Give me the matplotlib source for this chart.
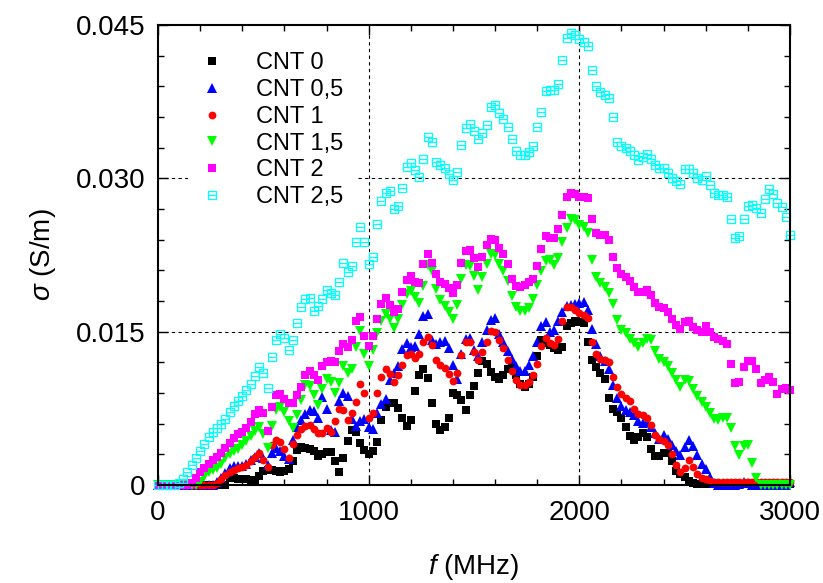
import numpy as np
import matplotlib
matplotlib.use("Agg")
import matplotlib.pyplot as plt
from matplotlib.path import Path
from matplotlib.ticker import MultipleLocator, FixedLocator

plt.rcParams['font.family'] = ['Liberation Sans', 'DejaVu Sans']
plt.rcParams['mathtext.fontset'] = 'custom'
plt.rcParams['mathtext.rm'] = 'Liberation Sans'
plt.rcParams['mathtext.it'] = 'Liberation Sans:italic'

# frequency grid, MHz
freq = np.arange(0, 3001, 20)

# conductivity in mS/m (one value per 20 MHz)
cnt_0 = [0] * 17 + [
    0.7, 0.7, 0.6, 0.6, 0.6, 0.5, 0.5, 0.9, 1.4, 1.5,
    1.5, 1.4, 1.3, 1.4, 1.6, 2.3, 3.4, 3.7, 3.6, 3.5,
    3.3, 2.8, 3.0, 3.2, 3.2, 2.3, 1.3, 2.6, 4.3, 5.4,
    5.2, 4.1, 3.4, 3.0, 3.3, 4.2, 6.4, 7.6, 8.0, 8.0,
    7.5, 6.6, 5.8, 6.4, 9.2, 10.8, 11.3, 10.5, 8.0, 6.0,
    5.4, 5.7, 6.6, 9.0, 8.8, 8.3, 7.3, 8.8, 9.7, 11.0,
    12.1, 11.8, 11.1, 10.6, 10.4, 10.8, 11.3, 11.4, 10.8, 9.9,
    9.6, 9.9, 10.6, 12.6, 14.2, 13.9, 13.7, 13.4, 13.2, 13.5,
    15.6, 15.8, 16.0, 15.9, 15.8, 14.0, 12.2, 11.5, 11.0, 10.4,
    8.5, 7.4, 7.1, 6.6, 5.7, 4.8, 4.4, 4.7, 5.1, 4.7,
    3.5, 2.8, 2.8, 3.1, 3.1, 2.3, 1.4, 1.1, 0.8, 0.4,
    0.2] + [0.1] * 23

cnt_05 = [0] * 14 + [
    0.3, 0.7, 1.2, 1.7, 1.9, 1.9, 1.9, 2.1, 2.4, 2.7,
    3.1, 2.6, 2.0, 3.1, 3.6, 3.3, 2.8, 2.5, 4.4, 5.7,
    6.4, 6.9, 7.3, 7.2, 6.6, 8.6, 7.4, 5.4, 5.2, 8.2,
    9.0, 8.7, 6.5, 5.8, 6.3, 6.5, 5.7, 5.5, 7.0, 7.9,
    8.4, 10.3, 11.0, 11.6, 13.3, 13.9, 13.5, 13.6, 14.8, 16.5,
    16.7, 14.2, 13.8, 14.0, 14.1, 13.4, 11.7, 10.4, 12.8, 14.3,
    14.4, 13.2, 12.6, 14.0, 15.2, 16.1, 16.3, 14.8, 14.0, 13.1,
    12.3, 11.6, 11.2, 11.2, 11.7, 12.6, 14.0, 15.6, 15.9, 15.0,
    15.2, 16.0, 16.9, 17.5, 17.6, 17.7, 17.8, 17.9, 17.1, 15.3,
    13.8, 12.6, 12.1, 11.3, 9.8, 8.5, 7.7, 7.3, 7.1, 6.8,
    6.3, 6.1, 6.2, 5.7, 5.1, 4.5, 4.9, 4.5, 3.9, 3.3,
    2.9, 3.7, 4.4, 3.8, 2.9, 2.1, 1.6, 0.8, 0.2, 0.0,
    0.0, 0.0, 0.0, 0.0, 0.1, 0.3, 0.2, 0.0, 0.0, 0.0,
    0.0, 0.0, 0.0, 0.0, 0.0, 0.0, 0.3]

cnt_1 = [0] * 14 + [
    0.2, 0.6, 1.0, 1.3, 1.5, 1.7, 1.8, 2.0, 2.3, 2.7,
    3.1, 2.4, 1.8, 3.9, 4.4, 4.2, 3.5, 2.6, 4.0, 4.9,
    5.5, 5.8, 5.9, 5.5, 5.1, 5.1, 5.6, 5.2, 6.3, 7.4,
    7.3, 6.4, 7.0, 8.1, 9.9, 9.0, 6.6, 7.0, 9.0, 10.6,
    11.3, 10.9, 10.1, 10.8, 11.7, 12.7, 12.8, 12.4, 12.8, 14.0,
    14.5, 13.7, 12.2, 11.7, 11.4, 10.9, 10.2, 11.0, 12.7, 14.0,
    14.0, 13.0, 12.2, 13.0, 14.0, 15.1, 15.0, 14.2, 13.4, 12.2,
    11.2, 10.3, 9.8, 9.8, 10.1, 10.8, 11.8, 13.6, 14.4, 13.9,
    13.7, 14.3, 16.0, 17.4, 17.4, 17.1, 16.8, 16.6, 16.3, 14.0,
    12.8, 12.3, 12.2, 12.0, 10.6, 9.6, 8.9, 8.5, 8.2, 7.4,
    6.9, 6.8, 6.6, 5.9, 4.9, 4.5, 4.3, 3.9, 3.0, 2.0,
    1.3, 1.7, 2.4, 1.8, 1.1, 0.7, 0.6, 0.4] + [0.3] * 19

cnt_15 = [0] * 10 + [
    0.3, 0.8, 1.3, 1.5, 1.7, 2.1, 2.6, 3.0, 3.3, 3.5,
    3.9, 4.3, 4.8, 5.3, 5.7, 5.0, 3.6, 5.8, 7.3, 7.6,
    7.1, 6.3, 5.6, 6.8, 8.3, 9.8, 9.7, 8.8, 7.8, 9.4,
    10.4, 10.1, 9.0, 10.0, 11.6, 11.0, 11.3, 13.5, 15.1, 12.8,
    11.6, 13.2, 14.9, 16.0, 16.7, 16.2, 15.4, 16.2, 17.6, 18.7,
    19.0, 18.4, 17.8, 19.5, 21.5, 20.9, 19.2, 18.1, 17.5, 16.9,
    16.2, 17.6, 20.2, 21.5, 21.4, 20.4, 19.1, 20.3, 21.6, 22.6,
    22.5, 21.6, 20.9, 20.0, 18.5, 17.4, 17.0, 17.0, 17.3, 18.2,
    19.6, 20.9, 21.9, 22.0, 21.5, 22.2, 23.8, 25.1, 26.0, 25.9,
    25.4, 25.2, 24.7, 22.0, 20.3, 19.8, 19.4, 18.8, 17.7, 16.1,
    15.2, 14.9, 14.3, 13.9, 13.5, 13.9, 14.3, 14.2, 13.1, 12.3,
    12.0, 11.6, 11.0, 10.3, 9.6, 10.3, 10.2, 9.4, 8.7, 8.1,
    7.6, 7.0, 6.5, 6.4, 6.6, 6.6, 5.6, 3.8, 2.9, 3.8,
    3.9, 2.2, 0.7] + [0] * 8

cnt_2 = [0] * 8 + [
    0.2, 0.7, 1.3, 1.7, 2.1, 2.4, 2.7, 3.1, 3.6, 4.1,
    4.6, 5.0, 5.2, 5.6, 6.2, 6.9, 7.3, 7.0, 5.3, 7.6,
    8.8, 8.9, 8.4, 8.0, 8.0, 8.8, 9.6, 10.8, 11.2, 10.8,
    10.3, 11.6, 12.0, 12.1, 12.0, 13.1, 13.8, 13.5, 14.2, 16.0,
    16.4, 14.6, 13.6, 14.6, 16.2, 17.7, 18.3, 17.6, 16.9, 17.2,
    18.9, 20.1, 20.4, 19.9, 19.8, 21.6, 22.6, 21.7, 20.6, 19.9,
    19.7, 19.3, 18.8, 19.6, 21.7, 22.9, 23.0, 22.2, 21.3, 22.3,
    23.5, 24.1, 24.0, 23.2, 22.6, 21.6, 20.2, 19.5, 19.4, 19.6,
    19.9, 20.2, 21.4, 23.1, 24.4, 24.2, 24.2, 25.0, 26.4, 28.2,
    28.6, 28.5, 28.2, 28.2, 28.1, 26.0, 24.7, 24.5, 24.5, 24.0,
    22.3, 21.2, 20.6, 20.3, 20.0, 19.4, 18.9, 18.9, 19.1, 18.6,
    17.8, 17.4, 17.3, 16.9, 16.2, 15.7, 15.3, 15.9, 16.0, 15.5,
    15.2, 15.0, 15.6, 15.0, 14.5, 14.3, 14.1, 13.8, 11.8, 10.0,
    10.1, 11.5, 12.1, 12.1, 11.3, 10.0, 10.3, 10.6, 10.1, 8.9,
    9.4, 9.5, 9.3]

cnt_25 = [0] * 5 + [
    0.2, 0.6, 1.3, 2.0, 2.6, 3.3, 4.0, 4.7, 5.2, 5.6,
    6.0, 6.5, 7.1, 7.7, 8.2, 8.7, 9.3, 9.9, 10.7, 11.5,
    11.0, 9.5, 12.5, 14.2, 14.8, 14.4, 13.2, 14.2, 15.8, 17.4,
    18.2, 18.3, 17.0, 17.5, 18.2, 19.1, 18.8, 18.6, 19.9, 21.7,
    20.8, 21.4, 23.8, 25.2, 23.8, 21.6, 22.3, 25.5, 27.8, 28.6,
    28.8, 27.0, 27.3, 29.1, 31.1, 31.5, 30.8, 30.1, 31.9, 34.0,
    33.6, 31.6, 31.3, 31.0, 30.4, 29.8, 30.6, 33.3, 34.9, 35.3,
    34.6, 33.8, 34.4, 35.2, 37.0, 37.2, 36.4, 35.8, 35.0, 33.8,
    32.7, 32.3, 32.3, 32.6, 33.2, 35.0, 36.5, 38.5, 38.6, 38.6,
    39.2, 41.6, 43.7, 44.2, 44.0, 43.6, 43.3, 42.9, 40.6, 39.0,
    38.4, 38.2, 37.9, 36.0, 33.6, 33.2, 33.0, 32.7, 32.3, 31.8,
    32.1, 32.4, 31.9, 31.3, 31.0, 31.0, 30.5, 30.0, 29.7, 29.4,
    30.9, 30.9, 30.5, 30.0, 29.8, 30.2, 29.3, 28.6, 28.4, 28.4,
    28.2, 26.0, 24.2, 24.4, 26.0, 27.3, 27.4, 27.1, 26.6, 28.0,
    29.0, 28.5, 27.6, 27.2, 26.2, 24.5]

labels = ['CNT 0', 'CNT 0,5', 'CNT 1', 'CNT 1,5', 'CNT 2', 'CNT 2,5']
series = [cnt_0, cnt_05, cnt_1, cnt_15, cnt_2, cnt_25]

# open square with a horizontal bar through the middle
box_bar = Path([(-1, -1), (1, -1), (1, 1), (-1, 1), (-1, -1), (-1, 0), (1, 0)],
               [Path.MOVETO, Path.LINETO, Path.LINETO, Path.LINETO, Path.CLOSEPOLY,
                Path.MOVETO, Path.LINETO])

styles = [
    dict(marker='s', color='#000000', markersize=6.3),
    dict(marker='^', color='#0000ff', markersize=6.5),
    dict(marker='o', color='#ff0000', markersize=5.6),
    dict(marker='v', color='#00ff00', markersize=6.5),
    dict(marker='s', color='#ff00ff', markersize=6.3),
    dict(marker=box_bar, color='#00ffff', markersize=5.6),
]

fig = plt.figure(figsize=(8.23, 5.83), dpi=100)
ax = fig.add_axes([158 / 823, 1 - 485 / 583, 632 / 823, 460 / 583])

for vals, lab, st in zip(series, labels, styles):
    assert len(vals) == len(freq), (lab, len(vals))
    y = np.array(vals) * 1e-3
    if st['marker'] is box_bar:
        ax.plot(freq, y, linestyle='none', marker=box_bar, markersize=st['markersize'],
                markerfacecolor='none', markeredgecolor=st['color'], markeredgewidth=0.9,
                label=lab, clip_on=False)
    else:
        ax.plot(freq, y, linestyle='none', marker=st['marker'], markersize=st['markersize'],
                color=st['color'], markeredgewidth=0, label=lab, clip_on=False)

ax.set_xlim(0, 3000)
ax.set_ylim(0, 0.045)

ax.xaxis.set_major_locator(FixedLocator([0, 1000, 2000, 3000]))
ax.xaxis.set_minor_locator(MultipleLocator(200))
ax.yaxis.set_major_locator(FixedLocator([0, 0.015, 0.030, 0.045]))
ax.yaxis.set_minor_locator(MultipleLocator(0.003))
ax.set_xticklabels(['0', '1000', '2000', '3000'])
ax.set_yticklabels(['0', '0.015', '0.030', '0.045'])

ax.tick_params(which='both', direction='in', top=True, right=True, labelsize=20, width=1)
ax.tick_params(which='major', length=7)
ax.tick_params(which='minor', length=4)
ax.tick_params(axis='x', pad=11)
ax.tick_params(axis='y', pad=9)

for sp in ax.spines.values():
    sp.set_linewidth(1.5)

for gx in [1000, 2000]:
    ax.axvline(gx, color='black', lw=0.8, ls=(0, (3, 3)), zorder=0)
for gy in [0.015, 0.030]:
    ax.axhline(gy, color='black', lw=0.8, ls=(0, (3, 3)), zorder=0)

ax.set_xlabel('$f$ (MHz)', fontsize=20, labelpad=18.5)
ax.set_ylabel('$\\sigma$ (S/m)', fontsize=20, labelpad=13)

leg = ax.legend(loc='upper left', bbox_to_anchor=(0.0475, 0.966), borderaxespad=0,
                fontsize=17, frameon=True, fancybox=False, framealpha=1,
                edgecolor='none', facecolor='white', labelspacing=0.2,
                handlelength=1.0, handletextpad=1.4, borderpad=0.5, markerscale=1.0)

fig.savefig('out.png', dpi=100)
